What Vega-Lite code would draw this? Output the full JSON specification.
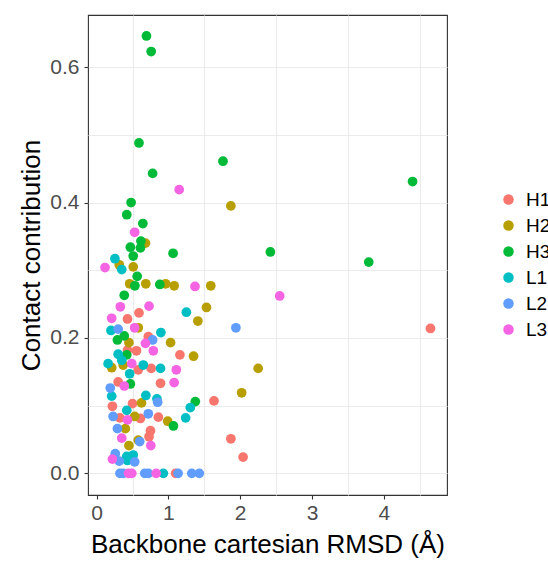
{
  "$schema": "https://vega.github.io/schema/vega-lite/v6.json",
  "width": 359,
  "height": 480,
  "autosize": "none",
  "padding": {"left": 88, "top": 15, "right": 101, "bottom": 67},
  "background": "white",
  "config": {
    "font": "Liberation Sans",
    "view": {"stroke": "#333333", "strokeWidth": 1.1},
    "axis": {
      "domain": false,
      "gridColor": "#EBEBEB",
      "gridWidth": 1.1,
      "tickColor": "#333333",
      "tickSize": 4,
      "tickWidth": 1.1,
      "labelColor": "#4D4D4D",
      "labelFontSize": 21,
      "titleColor": "#000000",
      "titleFontSize": 26,
      "titleFontWeight": "normal"
    }
  },
  "data": {
    "values": [
      {"rmsd": 4.65, "contact": 0.214, "cdr": "H1"},
      {"rmsd": 1.635, "contact": 0.107, "cdr": "H1"},
      {"rmsd": 1.87, "contact": 0.051, "cdr": "H1"},
      {"rmsd": 2.04, "contact": 0.024, "cdr": "H1"},
      {"rmsd": 0.59, "contact": 0.237, "cdr": "H1"},
      {"rmsd": 0.43, "contact": 0.228, "cdr": "H1"},
      {"rmsd": 0.72, "contact": 0.202, "cdr": "H1"},
      {"rmsd": 0.555, "contact": 0.181, "cdr": "H1"},
      {"rmsd": 0.43, "contact": 0.182, "cdr": "H1"},
      {"rmsd": 1.16, "contact": 0.175, "cdr": "H1"},
      {"rmsd": 0.58, "contact": 0.153, "cdr": "H1"},
      {"rmsd": 0.76, "contact": 0.155, "cdr": "H1"},
      {"rmsd": 0.89, "contact": 0.133, "cdr": "H1"},
      {"rmsd": 0.30, "contact": 0.135, "cdr": "H1"},
      {"rmsd": 0.22, "contact": 0.099, "cdr": "H1"},
      {"rmsd": 0.50, "contact": 0.103, "cdr": "H1"},
      {"rmsd": 0.325, "contact": 0.082, "cdr": "H1"},
      {"rmsd": 0.61, "contact": 0.081, "cdr": "H1"},
      {"rmsd": 0.86, "contact": 0.083, "cdr": "H1"},
      {"rmsd": 0.75, "contact": 0.063, "cdr": "H1"},
      {"rmsd": 0.73, "contact": 0.054, "cdr": "H1"},
      {"rmsd": 1.10, "contact": 0.0, "cdr": "H1"},
      {"rmsd": 1.87, "contact": 0.395, "cdr": "H2"},
      {"rmsd": 1.59, "contact": 0.277, "cdr": "H2"},
      {"rmsd": 1.53, "contact": 0.245, "cdr": "H2"},
      {"rmsd": 1.41, "contact": 0.225, "cdr": "H2"},
      {"rmsd": 1.35, "contact": 0.173, "cdr": "H2"},
      {"rmsd": 2.25, "contact": 0.155, "cdr": "H2"},
      {"rmsd": 2.02, "contact": 0.119, "cdr": "H2"},
      {"rmsd": 0.68, "contact": 0.340, "cdr": "H2"},
      {"rmsd": 0.315, "contact": 0.308, "cdr": "H2"},
      {"rmsd": 0.51, "contact": 0.305, "cdr": "H2"},
      {"rmsd": 0.46, "contact": 0.280, "cdr": "H2"},
      {"rmsd": 0.685, "contact": 0.280, "cdr": "H2"},
      {"rmsd": 0.96, "contact": 0.280, "cdr": "H2"},
      {"rmsd": 1.08, "contact": 0.277, "cdr": "H2"},
      {"rmsd": 0.58, "contact": 0.215, "cdr": "H2"},
      {"rmsd": 0.45, "contact": 0.193, "cdr": "H2"},
      {"rmsd": 1.03, "contact": 0.193, "cdr": "H2"},
      {"rmsd": 0.37, "contact": 0.160, "cdr": "H2"},
      {"rmsd": 0.21, "contact": 0.156, "cdr": "H2"},
      {"rmsd": 0.625, "contact": 0.104, "cdr": "H2"},
      {"rmsd": 0.53, "contact": 0.084, "cdr": "H2"},
      {"rmsd": 0.99, "contact": 0.077, "cdr": "H2"},
      {"rmsd": 0.40, "contact": 0.066, "cdr": "H2"},
      {"rmsd": 0.45, "contact": 0.041, "cdr": "H2"},
      {"rmsd": 0.58, "contact": 0.049, "cdr": "H2"},
      {"rmsd": 0.694, "contact": 0.646, "cdr": "H3"},
      {"rmsd": 0.76, "contact": 0.623, "cdr": "H3"},
      {"rmsd": 0.59, "contact": 0.488, "cdr": "H3"},
      {"rmsd": 1.76, "contact": 0.461, "cdr": "H3"},
      {"rmsd": 0.78, "contact": 0.443, "cdr": "H3"},
      {"rmsd": 0.48, "contact": 0.400, "cdr": "H3"},
      {"rmsd": 0.42, "contact": 0.382, "cdr": "H3"},
      {"rmsd": 0.644, "contact": 0.369, "cdr": "H3"},
      {"rmsd": 0.617, "contact": 0.343, "cdr": "H3"},
      {"rmsd": 0.47, "contact": 0.334, "cdr": "H3"},
      {"rmsd": 0.61, "contact": 0.333, "cdr": "H3"},
      {"rmsd": 0.51, "contact": 0.321, "cdr": "H3"},
      {"rmsd": 1.065, "contact": 0.325, "cdr": "H3"},
      {"rmsd": 0.565, "contact": 0.291, "cdr": "H3"},
      {"rmsd": 0.533, "contact": 0.277, "cdr": "H3"},
      {"rmsd": 0.88, "contact": 0.279, "cdr": "H3"},
      {"rmsd": 0.385, "contact": 0.263, "cdr": "H3"},
      {"rmsd": 2.42, "contact": 0.327, "cdr": "H3"},
      {"rmsd": 3.79, "contact": 0.312, "cdr": "H3"},
      {"rmsd": 4.40, "contact": 0.431, "cdr": "H3"},
      {"rmsd": 0.29, "contact": 0.197, "cdr": "H3"},
      {"rmsd": 0.385, "contact": 0.203, "cdr": "H3"},
      {"rmsd": 0.47, "contact": 0.132, "cdr": "H3"},
      {"rmsd": 1.375, "contact": 0.106, "cdr": "H3"},
      {"rmsd": 1.07, "contact": 0.070, "cdr": "H3"},
      {"rmsd": 0.42, "contact": 0.175, "cdr": "H3"},
      {"rmsd": 0.255, "contact": 0.317, "cdr": "L1"},
      {"rmsd": 0.35, "contact": 0.301, "cdr": "L1"},
      {"rmsd": 1.25, "contact": 0.238, "cdr": "L1"},
      {"rmsd": 0.20, "contact": 0.211, "cdr": "L1"},
      {"rmsd": 0.895, "contact": 0.208, "cdr": "L1"},
      {"rmsd": 0.30, "contact": 0.176, "cdr": "L1"},
      {"rmsd": 0.16, "contact": 0.162, "cdr": "L1"},
      {"rmsd": 0.35, "contact": 0.167, "cdr": "L1"},
      {"rmsd": 0.65, "contact": 0.160, "cdr": "L1"},
      {"rmsd": 0.89, "contact": 0.155, "cdr": "L1"},
      {"rmsd": 0.46, "contact": 0.147, "cdr": "L1"},
      {"rmsd": 0.21, "contact": 0.114, "cdr": "L1"},
      {"rmsd": 0.686, "contact": 0.115, "cdr": "L1"},
      {"rmsd": 0.84, "contact": 0.110, "cdr": "L1"},
      {"rmsd": 1.305, "contact": 0.097, "cdr": "L1"},
      {"rmsd": 1.24, "contact": 0.082, "cdr": "L1"},
      {"rmsd": 0.42, "contact": 0.093, "cdr": "L1"},
      {"rmsd": 0.42, "contact": 0.025, "cdr": "L1"},
      {"rmsd": 0.51, "contact": 0.027, "cdr": "L1"},
      {"rmsd": 0.43, "contact": 0.019, "cdr": "L1"},
      {"rmsd": 0.93, "contact": 0.0, "cdr": "L1"},
      {"rmsd": 1.94, "contact": 0.215, "cdr": "L2"},
      {"rmsd": 1.325, "contact": 0.0, "cdr": "L2"},
      {"rmsd": 1.43, "contact": 0.0, "cdr": "L2"},
      {"rmsd": 0.30, "contact": 0.213, "cdr": "L2"},
      {"rmsd": 0.78, "contact": 0.197, "cdr": "L2"},
      {"rmsd": 0.19, "contact": 0.126, "cdr": "L2"},
      {"rmsd": 0.85, "contact": 0.105, "cdr": "L2"},
      {"rmsd": 0.72, "contact": 0.088, "cdr": "L2"},
      {"rmsd": 0.23, "contact": 0.084, "cdr": "L2"},
      {"rmsd": 0.29, "contact": 0.066, "cdr": "L2"},
      {"rmsd": 0.60, "contact": 0.047, "cdr": "L2"},
      {"rmsd": 0.26, "contact": 0.029, "cdr": "L2"},
      {"rmsd": 0.315, "contact": 0.018, "cdr": "L2"},
      {"rmsd": 0.53, "contact": 0.017, "cdr": "L2"},
      {"rmsd": 0.325, "contact": 0.0, "cdr": "L2"},
      {"rmsd": 0.37, "contact": 0.0, "cdr": "L2"},
      {"rmsd": 0.67, "contact": 0.0, "cdr": "L2"},
      {"rmsd": 0.72, "contact": 0.0, "cdr": "L2"},
      {"rmsd": 1.135, "contact": 0.0, "cdr": "L2"},
      {"rmsd": 0.117, "contact": 0.304, "cdr": "L3"},
      {"rmsd": 1.15, "contact": 0.419, "cdr": "L3"},
      {"rmsd": 0.53, "contact": 0.356, "cdr": "L3"},
      {"rmsd": 2.55, "contact": 0.262, "cdr": "L3"},
      {"rmsd": 1.37, "contact": 0.276, "cdr": "L3"},
      {"rmsd": 0.33, "contact": 0.246, "cdr": "L3"},
      {"rmsd": 0.73, "contact": 0.247, "cdr": "L3"},
      {"rmsd": 0.21, "contact": 0.229, "cdr": "L3"},
      {"rmsd": 0.53, "contact": 0.215, "cdr": "L3"},
      {"rmsd": 0.68, "contact": 0.192, "cdr": "L3"},
      {"rmsd": 0.79, "contact": 0.181, "cdr": "L3"},
      {"rmsd": 0.49, "contact": 0.162, "cdr": "L3"},
      {"rmsd": 1.11, "contact": 0.153, "cdr": "L3"},
      {"rmsd": 0.385, "contact": 0.129, "cdr": "L3"},
      {"rmsd": 1.08, "contact": 0.134, "cdr": "L3"},
      {"rmsd": 0.35, "contact": 0.052, "cdr": "L3"},
      {"rmsd": 0.755, "contact": 0.041, "cdr": "L3"},
      {"rmsd": 0.22, "contact": 0.021, "cdr": "L3"},
      {"rmsd": 0.43, "contact": 0.079, "cdr": "L3"},
      {"rmsd": 0.445, "contact": 0.0, "cdr": "L3"},
      {"rmsd": 0.49, "contact": 0.0, "cdr": "L3"},
      {"rmsd": 0.83, "contact": 0.0, "cdr": "L3"}
    ]
  },
  "mark": {"type": "point", "filled": true, "size": 95, "opacity": 1, "strokeWidth": 0},
  "encoding": {
    "x": {
      "field": "rmsd",
      "type": "quantitative",
      "scale": {"domain": [-0.12, 4.88], "nice": false, "zero": false},
      "axis": {
        "title": "Backbone cartesian RMSD (Å)",
        "values": [0, 0.5, 1, 1.5, 2, 2.5, 3, 3.5, 4, 4.5],
        "labelExpr": "datum.value % 1 == 0 ? format(datum.value, 'd') : ''",
        "tickOpacity": {"condition": {"test": "datum.value % 1 != 0", "value": 0}, "value": 1},
        "gridOpacity": {"condition": {"test": "datum.value % 1 != 0", "value": 1}, "value": 0},
        "labelPadding": 3,
        "titlePadding": 8
      }
    },
    "y": {
      "field": "contact",
      "type": "quantitative",
      "scale": {"domain": [-0.032, 0.677], "nice": false, "zero": false},
      "axis": {
        "title": "Contact contribution",
        "values": [0, 0.1, 0.2, 0.3, 0.4, 0.5, 0.6],
        "labelExpr": "round(datum.value * 10) % 2 == 0 ? format(datum.value, '.1f') : ''",
        "tickOpacity": {"condition": {"test": "round(datum.value * 10) % 2 == 1", "value": 0}, "value": 1},
        "labelPadding": 5,
        "titlePadding": 5
      }
    },
    "color": {
      "field": "cdr",
      "type": "nominal",
      "scale": {
        "domain": ["H1", "H2", "H3", "L1", "L2", "L3"],
        "range": ["#F8766D", "#B79F00", "#00BA38", "#00BFC4", "#619CFF", "#F564E3"]
      },
      "legend": {
        "title": null,
        "orient": "none",
        "legendX": 411,
        "legendY": 175,
        "symbolType": "circle",
        "symbolSize": 110,
        "symbolStrokeWidth": 0,
        "labelFontSize": 19,
        "labelColor": "#000000",
        "labelOffset": 8,
        "rowPadding": 6
      }
    }
  }
}
